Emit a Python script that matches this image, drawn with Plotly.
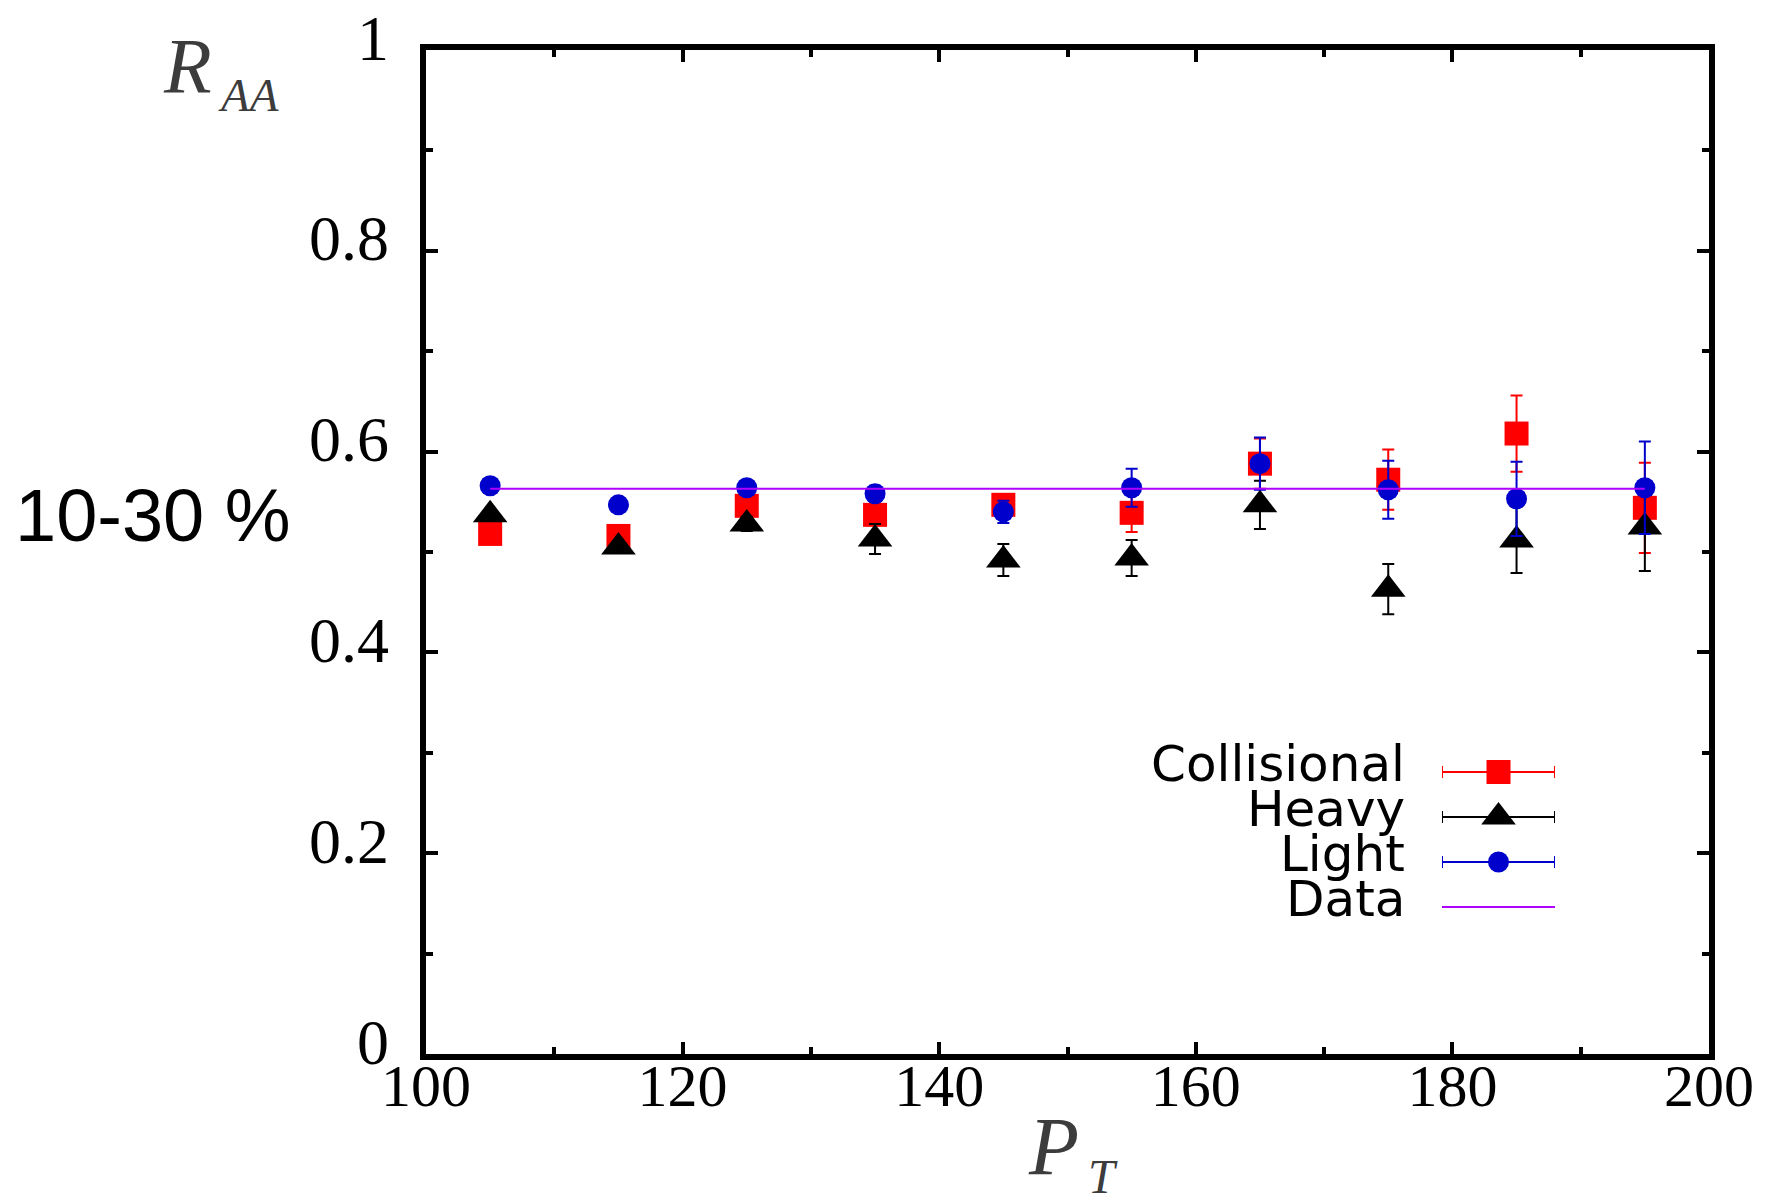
import plotly.graph_objects as go

# ---------------- data ----------------
pt = [105, 115, 125, 135, 145, 155, 165, 175, 185, 195]

collisional = [0.518, 0.516, 0.546, 0.537, 0.547, 0.539, 0.588, 0.572, 0.618, 0.544]
collisional_err = [0.005, 0.005, 0.008, 0.008, 0.010, 0.019, 0.025, 0.030, 0.038, 0.045]

heavy = [0.537, 0.505, 0.528, 0.513, 0.492, 0.494, 0.547, 0.463, 0.512, 0.525]
heavy_err = [0.005, 0.005, 0.007, 0.015, 0.016, 0.018, 0.024, 0.025, 0.033, 0.044]

light = [0.566, 0.547, 0.564, 0.558, 0.540, 0.564, 0.588, 0.562, 0.553, 0.564]
light_err = [0.004, 0.004, 0.006, 0.008, 0.011, 0.019, 0.026, 0.029, 0.037, 0.046]

data_x = [105, 195]
data_y = [0.563, 0.563]

series_names = ["Collisional", "Heavy", "Light", "Data"]
x_ticks = [100, 120, 140, 160, 180, 200]
y_ticks = [0, 0.2, 0.4, 0.6, 0.8, 1]
y_tick_text = ["0", "0.2", "0.4", "0.6", "0.8", "1"]

# ---------------- style ----------------
RED = "#ff0000"
BLACK = "#000000"
BLUE = "#0000cc"
PURPLE = "#b000ff"
colors = [RED, BLACK, BLUE, PURPLE]
symbols = ["square", "triangle-up", "circle"]
sizes = [24, 30, 21]

# page has an 8px body margin; figure sized to fill the rest of the window
OFF = 8
W, H = 1766 - OFF, 1201 - OFF
L, R, T, B = 418, 57, 42, 147
pw, ph = W - L - R, H - T - B


def px(xp):  # page pixel x -> paper
    return (xp - OFF - L) / pw


def py(yp):  # page pixel y -> paper
    return (H - B - (yp - OFF)) / ph


fig = go.Figure()

values = [collisional, heavy, light]
errs = [collisional_err, heavy_err, light_err]
for i in range(3):
    fig.add_trace(go.Scatter(
        x=pt, y=values[i], mode="markers", name=series_names[i],
        marker=dict(symbol=symbols[i], size=sizes[i], color=colors[i], line=dict(width=0)),
        error_y=dict(type="data", array=errs[i], visible=True, color=colors[i],
                     thickness=2, width=6),
        showlegend=False,
    ))

fig.add_trace(go.Scatter(
    x=data_x, y=data_y, mode="lines", name=series_names[3],
    line=dict(color=PURPLE, width=2), showlegend=False,
))

# ---------------- custom legend (keys on an overlay axis) ----------------
key_rows = [3.5, 2.5, 1.5, 0.5]
leg_top, leg_bot = 749.5, 929.5
for i in range(3):
    fig.add_trace(go.Scatter(
        x=[0], y=[key_rows[i]], xaxis="x2", yaxis="y2", mode="markers",
        marker=dict(symbol=symbols[i], size=sizes[i], color=colors[i], line=dict(width=0)),
        error_x=dict(type="data", array=[1], visible=True, color=colors[i],
                     thickness=2, width=6),
        showlegend=False, hoverinfo="skip",
    ))
fig.add_trace(go.Scatter(
    x=[-1, 1], y=[key_rows[3], key_rows[3]], xaxis="x2", yaxis="y2", mode="lines",
    line=dict(color=PURPLE, width=2), showlegend=False, hoverinfo="skip",
))

annotations = []
for i, name in enumerate(series_names):
    row_y = leg_bot - (leg_bot - leg_top) * key_rows[i] / 4 - 8
    annotations.append(dict(
        x=px(1407), y=py(row_y), xref="paper", yref="paper", text=name, showarrow=False,
        xanchor="right", yanchor="middle",
        font=dict(family="DejaVu Sans", size=50, color="black"),
    ))

# y tick labels, placed on the y axis scale (slightly raised like the original)
for v, txt in zip(y_ticks, y_tick_text):
    annotations.append(dict(
        x=px(391), y=v, xref="paper", yref="y", text=txt, showarrow=False,
        xanchor="right", yanchor="middle", yshift=12,
        font=dict(family="Liberation Serif", size=64, color="black"),
    ))

TITLE_COLOR = "#3c3c3c"
annotations += [
    dict(x=px(187), y=py(66), xref="paper", yref="paper", text="<i>R</i>", showarrow=False,
         xanchor="center", yanchor="middle",
         font=dict(family="Liberation Serif", size=78, color=TITLE_COLOR)),
    dict(x=px(248), y=py(95), xref="paper", yref="paper", text="<i>AA</i>", showarrow=False,
         xanchor="center", yanchor="middle",
         font=dict(family="Liberation Serif", size=47, color=TITLE_COLOR)),
    dict(x=px(1053), y=py(1146), xref="paper", yref="paper", text="<i>P</i>", showarrow=False,
         xanchor="center", yanchor="middle",
         font=dict(family="Liberation Serif", size=82, color=TITLE_COLOR)),
    dict(x=px(1103), y=py(1176), xref="paper", yref="paper", text="<i>T</i>", showarrow=False,
         xanchor="center", yanchor="middle",
         font=dict(family="Liberation Serif", size=48, color=TITLE_COLOR)),
    dict(x=px(13), y=py(515), xref="paper", yref="paper", text="10-30 %", showarrow=False,
         xanchor="left", yanchor="middle",
         font=dict(family="Liberation Sans", size=74, color="black")),
]

axis_common = dict(
    showline=True, linecolor="black", linewidth=6, mirror="ticks",
    ticks="inside", ticklen=12, tickwidth=4, tickcolor="black",
    showgrid=False, zeroline=False,
)

fig.update_layout(
    width=W, height=H,
    margin=dict(l=L, r=R, t=T, b=B),
    plot_bgcolor="white", paper_bgcolor="white",
    xaxis=dict(range=[100, 200], tickvals=x_ticks,
               minor=dict(dtick=10, ticks="inside", ticklen=7, tickwidth=4, tickcolor="black"),
               ticklabelstandoff=-26,
               tickfont=dict(family="Liberation Serif", size=60, color="black"),
               **axis_common),
    yaxis=dict(range=[0, 1], tickvals=y_ticks, showticklabels=False,
               minor=dict(dtick=0.1, ticks="inside", ticklen=7, tickwidth=4, tickcolor="black"),
               **axis_common),
    xaxis2=dict(domain=[px(1442), px(1555)], range=[-1, 1], visible=False, anchor="y2"),
    yaxis2=dict(domain=[py(leg_bot), py(leg_top)], range=[0, 4], visible=False, anchor="x2"),
    annotations=annotations,
    showlegend=False,
)

fig.write_html("out.html")
